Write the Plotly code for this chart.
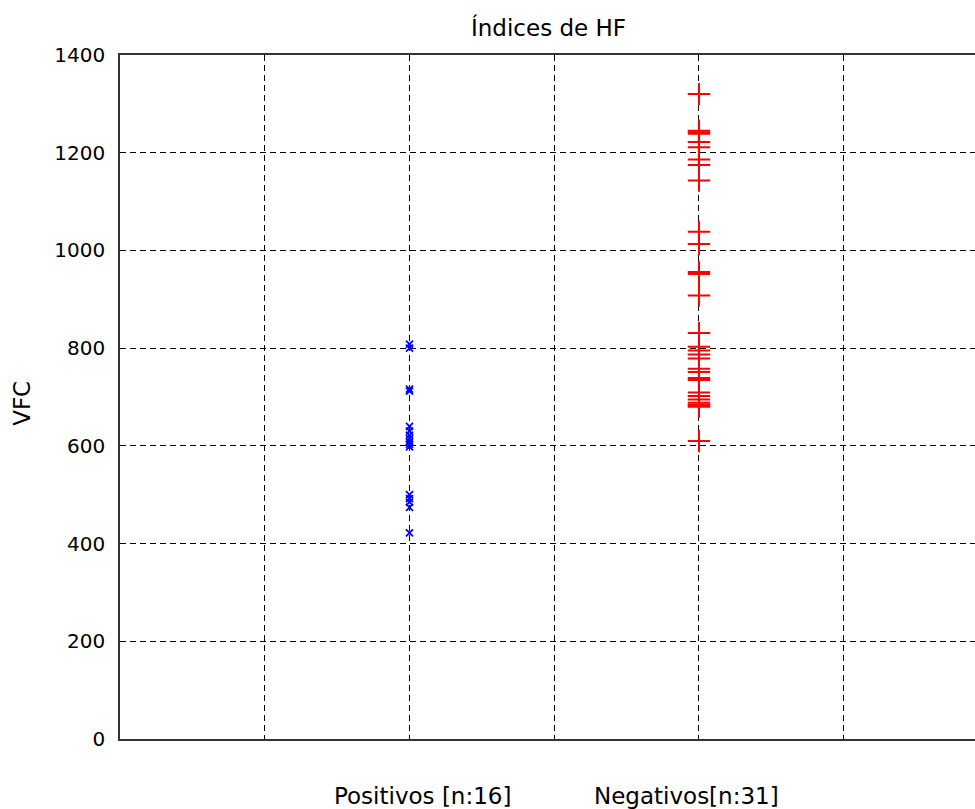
import plotly.graph_objects as go

# Data
pos_x = 2
neg_x = 4
positivos = [808, 800, 716, 712, 640, 630, 622, 615, 608, 603, 598, 500, 492, 485, 474, 422]
negativos = [1320, 1245, 1242, 1239, 1222, 1211, 1186, 1175, 1143, 1038, 1013,
             956, 952, 908, 831, 803, 795, 787, 779, 758, 751, 739, 735,
             709, 702, 695, 688, 684, 682, 680, 610]
xlabels = ["Positivos [n:16]", "Negativos[n:31]"]
title_text = "Índices de HF"
ylabel = "VFC"
yticks = [0, 200, 400, 600, 800, 1000, 1200, 1400]
xgrid = [1, 2, 3, 4, 5]

FONT = "DejaVu Sans, sans-serif"
GRIDDASH = "6px,4px"

fig = go.Figure()
fig.add_trace(go.Scatter(
    x=[pos_x] * len(positivos), y=positivos, mode="markers",
    marker=dict(symbol="x-thin", size=7, line=dict(color="#0000ff", width=1.8)),
    showlegend=False))
fig.add_trace(go.Scatter(
    x=[neg_x] * len(negativos), y=negativos, mode="markers",
    marker=dict(symbol="cross-thin", size=16, line=dict(color="#ff0000", width=2)),
    showlegend=False))

fig.update_layout(
    width=975, height=809,
    margin=dict(l=120, r=0, t=55, b=70),
    paper_bgcolor="white", plot_bgcolor="white",
    font=dict(family=FONT, size=20, color="black"),
    xaxis=dict(range=[0, 5.907], tickvals=xgrid, showticklabels=False,
               showgrid=True, gridcolor="black", griddash=GRIDDASH, gridwidth=1.2,
               showline=True, linecolor="#333333", linewidth=1.6, mirror=True,
               zeroline=False, ticks=""),
    yaxis=dict(range=[0, 1400], tickvals=yticks, ticktext=[str(v) for v in yticks],
               showgrid=True, gridcolor="black", griddash=GRIDDASH, gridwidth=1.2,
               showline=True, linecolor="#333333", linewidth=1.6, mirror=False,
               zeroline=False, ticks="", ticklabelstandoff=9,
               tickfont=dict(family=FONT, size=20, color="black")),
)

annotations = [
    dict(text=title_text, x=0.5006, y=1.0395, xref="paper", yref="paper",
         xanchor="center", yanchor="middle", showarrow=False,
         font=dict(family=FONT, size=23, color="black")),
    dict(text=ylabel, x=-0.1146, y=0.49, xref="paper", yref="paper", textangle=-90,
         xanchor="center", yanchor="middle", showarrow=False,
         font=dict(family=FONT, size=23, color="black")),
    dict(text=xlabels[0], x=pos_x, y=-0.083, xref="x", yref="paper", xshift=13,
         xanchor="center", yanchor="middle", showarrow=False,
         font=dict(family=FONT, size=23, color="black")),
    dict(text=xlabels[1], x=neg_x, y=-0.083, xref="x", yref="paper", xshift=-12,
         xanchor="center", yanchor="middle", showarrow=False,
         font=dict(family=FONT, size=23, color="black")),
]
fig.update_layout(annotations=annotations)

fig.write_html("out.html")
